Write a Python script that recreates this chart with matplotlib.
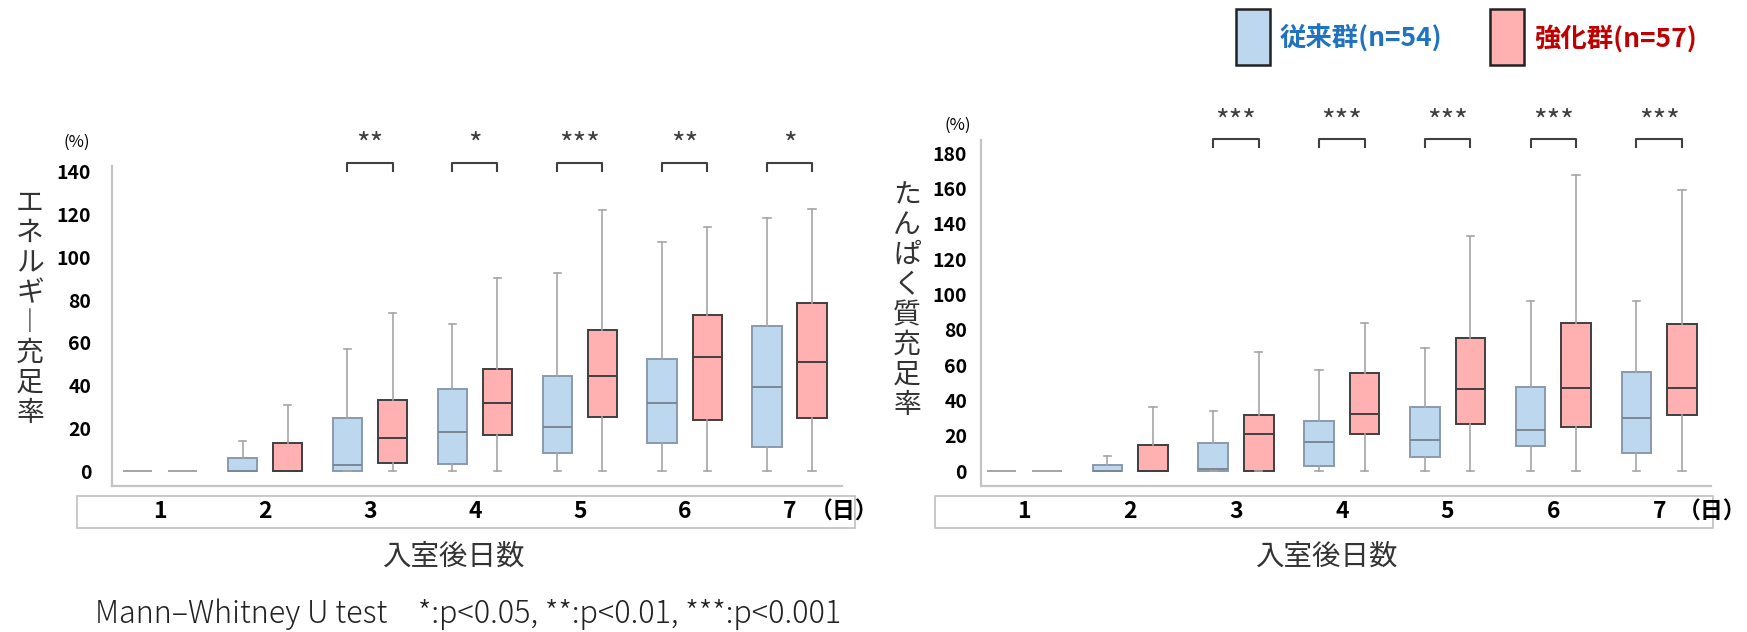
import matplotlib
matplotlib.use("Agg")
import matplotlib.pyplot as plt
from matplotlib.patches import Rectangle
from matplotlib.transforms import blended_transform_factory

plt.rcParams['font.family'] = ['Noto Sans CJK JP', 'DejaVu Sans']

# ----------------------------------------------------
# Data
# ----------------------------------------------------
days = [1, 2, 3, 4, 5, 6, 7]

# energy sufficiency rate (%)
energy_conv_q1 = [0, 0, 0, 3.3, 8.3, 13.0, 11.2]
energy_conv_med = [0, 0, 2.8, 18.1, 20.8, 31.8, 39.5]
energy_conv_q3 = [0, 5.9, 24.7, 38.5, 44.3, 52.3, 67.7]
energy_conv_lo = [0, 0, 0, 0, 0, 0, 0]
energy_conv_hi = [0, 14.2, 57.1, 68.8, 92.7, 107.1, 118.4]

energy_enh_q1 = [0, 0, 3.9, 16.9, 25.4, 24.0, 25.0]
energy_enh_med = [0, 0, 15.6, 31.8, 44.5, 53.5, 51.0]
energy_enh_q3 = [0, 13.3, 33.2, 47.8, 66.0, 72.9, 78.8]
energy_enh_lo = [0, 0, 0, 0, 0, 0, 0]
energy_enh_hi = [0, 30.9, 74.1, 90.4, 122.2, 114.1, 122.7]

energy_sig = ['', '', '**', '*', '***', '**', '*']

# protein sufficiency rate (%)
protein_conv_q1 = [0, 0, 0, 2.6, 8.1, 14.3, 10.4]
protein_conv_med = [0, 0, 0.9, 16.2, 17.6, 23.0, 30.0]
protein_conv_q3 = [0, 3.2, 16.1, 28.3, 36.1, 47.4, 55.9]
protein_conv_lo = [0, 0, 0, 0, 0, 0, 0]
protein_conv_hi = [0, 8.5, 34.2, 57.2, 69.5, 96.3, 96.3]

protein_enh_q1 = [0, 0, 0, 20.8, 26.6, 25.1, 31.5]
protein_enh_med = [0, 0, 21.2, 32.1, 46.5, 46.8, 47.2]
protein_enh_q3 = [0, 14.5, 31.9, 55.5, 75.4, 83.7, 83.1]
protein_enh_lo = [0, 0, 0, 0, 0, 0, 0]
protein_enh_hi = [0, 36.4, 67.4, 83.9, 133.3, 167.9, 159.0]

protein_sig = ['', '', '***', '***', '***', '***', '***']

conv_label = "従来群(n=54)"
enh_label = "強化群(n=57)"

# ----------------------------------------------------
# Styles
# ----------------------------------------------------
W, H = 1747, 632
BLUE_FILL = '#BDD7EE'
BLUE_EDGE = '#8A9AAE'
RED_FILL = '#FFB1B1'
RED_EDGE = '#3F3F3F'
WHISK = '#A6A6A6'
SPINE = '#C4C4C4'
OFF = 0.215
BW = 0.28


def make_stats(q1, med, q3, lo, hi):
    return [dict(q1=a, med=b, q3=c, whislo=d, whishi=e, fliers=[])
            for a, b, c, d, e in zip(q1, med, q3, lo, hi)]


def draw_group(ax, stats, pos, fill, edge, med_col):
    res = ax.bxp(stats, positions=pos, widths=BW, patch_artist=True,
                 showfliers=False, capwidths=0.07,
                 boxprops=dict(facecolor=fill, edgecolor=edge, linewidth=1.4),
                 medianprops=dict(color=med_col, linewidth=1.4),
                 whiskerprops=dict(color=WHISK, linewidth=1.2),
                 capprops=dict(color=WHISK, linewidth=1.2))
    # boxes with no spread show as a plain grey line
    for s, box, m in zip(stats, res['boxes'], res['medians']):
        if s['q3'] == s['q1']:
            box.set_edgecolor(WHISK)
            m.set_color(WHISK)
    return res


def panel(rect, conv, enh, sig, ylim, yticks, ypad, xlim,
          brk_low, brk_top, star_y, cat_box, unit_xy, ylabel, ylabel_xy,
          xlabel_x, day_xy):
    ax = fig.add_axes(rect)
    draw_group(ax, conv, [d - OFF for d in days], BLUE_FILL, BLUE_EDGE, '#7C8795')
    draw_group(ax, enh, [d + OFF for d in days], RED_FILL, RED_EDGE, RED_EDGE)

    ax.set_xlim(*xlim)
    ax.set_ylim(*ylim)
    ax.set_yticks(yticks)
    ax.set_xticks([])
    ax.tick_params(axis='y', length=0, pad=ypad, labelsize=14)
    for t in ax.get_yticklabels():
        t.set_fontweight('bold')
    for sp in ['top', 'right']:
        ax.spines[sp].set_visible(False)
    for sp in ['left', 'bottom']:
        ax.spines[sp].set_color(SPINE)
        ax.spines[sp].set_linewidth(1.6)

    # significance brackets
    for d, s in zip(days, sig):
        if not s:
            continue
        ax.plot([d - OFF, d - OFF, d + OFF, d + OFF],
                [brk_low, brk_top, brk_top, brk_low],
                color='#404040', lw=1.5, clip_on=False)
        ax.text(d, star_y, s, ha='center', va='center', fontsize=21,
                color='#404040')

    # category box below the axis
    x0, x1, y0, y1 = cat_box
    fig.patches.append(Rectangle((x0 / W, 1 - y1 / H), (x1 - x0) / W,
                                 (y1 - y0) / H, transform=fig.transFigure,
                                 fill=False, edgecolor=SPINE, lw=1.3))
    tr = blended_transform_factory(ax.transData, fig.transFigure)
    for d in days:
        ax.text(d, 1 - (y0 + y1) / 2 / H, str(d), transform=tr,
                ha='center', va='center', fontsize=16.5, fontweight='bold')
    fig.text(day_xy[0] / W, 1 - day_xy[1] / H, "（日）", ha='center',
             va='center', fontsize=16.5, fontweight='bold')
    fig.text(xlabel_x / W, 1 - 557 / H, "入室後日数", ha='center',
             va='center', fontsize=20.5, color='#333333')
    fig.text(unit_xy[0] / W, 1 - unit_xy[1] / H, "(%)", ha='center',
             va='center', fontsize=12)
    fig.text(ylabel_xy[0] / W, 1 - ylabel_xy[1] / H, "\n".join(ylabel),
             ha='center', va='center', fontsize=20, linespacing=1.0,
             color='#333333')
    return ax


fig = plt.figure(figsize=(W / 100, H / 100), dpi=100)

panel([112 / W, 1 - 486 / H, 730 / W, 320 / H],
      make_stats(energy_conv_q1, energy_conv_med, energy_conv_q3,
                 energy_conv_lo, energy_conv_hi),
      make_stats(energy_enh_q1, energy_enh_med, energy_enh_q3,
                 energy_enh_lo, energy_enh_hi),
      energy_sig, (-7.0, 142.8), range(0, 141, 20), 15, (0.54, 7.5),
      140.4, 144.3, 152.5, (77, 855, 496, 528), (77, 142),
      "エネルギ︱充足率", (30, 308), 453, (844, 512))

panel([981 / W, 1 - 485.7 / H, 730 / W, 345.7 / H],
      make_stats(protein_conv_q1, protein_conv_med, protein_conv_q3,
                 protein_conv_lo, protein_conv_hi),
      make_stats(protein_enh_q1, protein_enh_med, protein_enh_q3,
                 protein_enh_lo, protein_enh_hi),
      protein_sig, (-8.3, 187.5), range(0, 181, 20), 10, (0.59, 7.49),
      183.4, 188.1, 197.5, (935, 1713, 496, 528), (958, 125),
      "たんぱく質充足率", (907, 300), 1326, (1712, 512))

# legend
for x, fill, col, label in [(1236, BLUE_FILL, '#1F73C0', conv_label),
                            (1490, RED_FILL, '#C00000', enh_label)]:
    fig.patches.append(Rectangle((x / W, 1 - 65 / H), 34 / W, 56 / H,
                                 transform=fig.transFigure, facecolor=fill,
                                 edgecolor='#222222', lw=1.8))
    fig.text((x + 44) / W, 1 - 39 / H, label, ha='left', va='center',
             fontsize=19, fontweight='bold', color=col)

fig.text(95 / W, 1 - 614 / H,
         "Mann–Whitney U test　*:p<0.05, **:p<0.01, ***:p<0.001",
         ha='left', va='center', fontsize=22, fontweight='light',
         color='#222222')

fig.savefig("out.png", dpi=100)
